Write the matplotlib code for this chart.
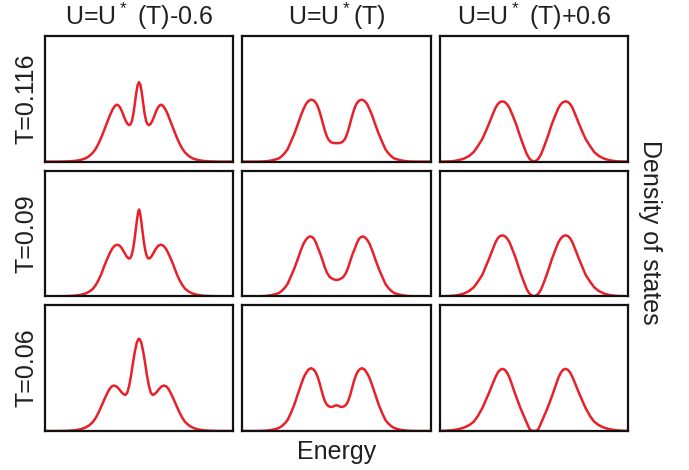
import matplotlib
matplotlib.use("Agg")
import matplotlib.pyplot as plt

plt.rcParams["font.family"] = ["Liberation Sans", "DejaVu Sans"]
plt.rcParams["mathtext.default"] = "regular"

col_titles = ["U=U$^*$ (T)-0.6", "U=U$^*$(T)", "U=U$^*$ (T)+0.6"]
row_labels = ["T=0.116", "T=0.09", "T=0.06"]

# --- U = U*(T) - 0.6 : quasiparticle peak between two Hubbard bands ---
e_116_lo = [-1.0, -0.85, -0.75, -0.68, -0.62, -0.57, -0.53, -0.49, -0.46, -0.43, -0.40, -0.37, -0.34, -0.31,
            -0.285, -0.26, -0.24, -0.22, -0.20, -0.18, -0.16, -0.14, -0.12, -0.105, -0.09, -0.075, -0.06,
            -0.045, -0.03, -0.015, 0.0,
            0.015, 0.03, 0.045, 0.06, 0.075, 0.09, 0.105, 0.12, 0.14, 0.16, 0.18, 0.20, 0.22, 0.24, 0.26,
            0.285, 0.31, 0.34, 0.37, 0.40, 0.43, 0.46, 0.49, 0.53, 0.57, 0.62, 0.68, 0.75, 0.85, 1.0]
d_116_lo = [0.0, 0.0, 0.002, 0.006, 0.014, 0.026, 0.044, 0.072, 0.103, 0.145, 0.195, 0.252, 0.31, 0.368,
            0.41, 0.44, 0.453, 0.448, 0.43, 0.397, 0.358, 0.322, 0.298, 0.291, 0.298, 0.325, 0.38,
            0.46, 0.545, 0.61, 0.632,
            0.61, 0.545, 0.46, 0.38, 0.325, 0.298, 0.291, 0.298, 0.322, 0.358, 0.397, 0.43, 0.448, 0.453, 0.44,
            0.41, 0.368, 0.31, 0.252, 0.195, 0.145, 0.103, 0.072, 0.044, 0.026, 0.014, 0.006, 0.002, 0.0, 0.0]

e_09_lo = [-1.0, -0.85, -0.75, -0.68, -0.62, -0.57, -0.53, -0.49, -0.46, -0.43, -0.40, -0.37, -0.34, -0.31,
           -0.285, -0.26, -0.235, -0.21, -0.19, -0.17, -0.15, -0.13, -0.11, -0.095, -0.08, -0.065, -0.05,
           -0.035, -0.02, -0.008, 0.0,
           0.008, 0.02, 0.035, 0.05, 0.065, 0.08, 0.095, 0.11, 0.13, 0.15, 0.17, 0.19, 0.21, 0.235, 0.26,
           0.285, 0.31, 0.34, 0.37, 0.40, 0.43, 0.46, 0.49, 0.53, 0.57, 0.62, 0.68, 0.75, 0.85, 1.0]
d_09_lo = [0.0, 0.0, 0.002, 0.005, 0.012, 0.022, 0.037, 0.06, 0.09, 0.13, 0.18, 0.24, 0.295, 0.345,
           0.38, 0.402, 0.411, 0.405, 0.39, 0.367, 0.34, 0.315, 0.301, 0.303, 0.325, 0.37, 0.44,
           0.53, 0.62, 0.675, 0.691,
           0.675, 0.62, 0.53, 0.44, 0.37, 0.325, 0.303, 0.301, 0.315, 0.34, 0.367, 0.39, 0.405, 0.411, 0.402,
           0.38, 0.345, 0.295, 0.24, 0.18, 0.13, 0.09, 0.06, 0.037, 0.022, 0.012, 0.005, 0.002, 0.0, 0.0]

e_06_lo = [-1.0, -0.85, -0.75, -0.68, -0.62, -0.57, -0.53, -0.49, -0.46, -0.43, -0.40, -0.37, -0.34, -0.315,
           -0.29, -0.265, -0.24, -0.215, -0.19, -0.165, -0.145, -0.125, -0.105, -0.085, -0.065, -0.045,
           -0.025, -0.01, 0.0,
           0.01, 0.025, 0.045, 0.065, 0.085, 0.105, 0.125, 0.145, 0.165, 0.19, 0.215, 0.24, 0.265, 0.29,
           0.315, 0.34, 0.37, 0.40, 0.43, 0.46, 0.49, 0.53, 0.57, 0.62, 0.68, 0.75, 0.85, 1.0]
d_06_lo = [0.0, 0.0, 0.002, 0.006, 0.014, 0.027, 0.045, 0.072, 0.105, 0.148, 0.198, 0.25, 0.298, 0.333,
           0.355, 0.362, 0.355, 0.336, 0.312, 0.293, 0.287, 0.305, 0.36, 0.44, 0.54, 0.63,
           0.7, 0.728, 0.734,
           0.728, 0.7, 0.63, 0.54, 0.44, 0.36, 0.305, 0.287, 0.293, 0.312, 0.336, 0.355, 0.362, 0.355,
           0.333, 0.298, 0.25, 0.198, 0.148, 0.105, 0.072, 0.045, 0.027, 0.014, 0.006, 0.002, 0.0, 0.0]

# --- U = U*(T) : two bands with a pseudogap ---
e_116_mid = [-1.0, -0.85, -0.76, -0.70, -0.65, -0.61, -0.58, -0.55, -0.52, -0.487, -0.45, -0.415, -0.38,
             -0.35, -0.325, -0.30, -0.27, -0.245, -0.225, -0.205, -0.185, -0.165, -0.145, -0.125, -0.105,
             -0.085, -0.06, -0.03, 0.0,
             0.03, 0.06, 0.085, 0.105, 0.125, 0.145, 0.165, 0.185, 0.205, 0.225, 0.245, 0.27, 0.30, 0.325,
             0.35, 0.38, 0.415, 0.45, 0.487, 0.52, 0.55, 0.58, 0.61, 0.65, 0.70, 0.76, 0.85, 1.0]
d_116_mid = [0.0, 0.0, 0.002, 0.008, 0.017, 0.027, 0.045, 0.068, 0.099, 0.155, 0.219, 0.29, 0.365,
             0.42, 0.459, 0.482, 0.493, 0.488, 0.474, 0.45, 0.41, 0.36, 0.305, 0.25, 0.205,
             0.175, 0.155, 0.148, 0.147,
             0.148, 0.155, 0.175, 0.205, 0.25, 0.305, 0.36, 0.41, 0.45, 0.474, 0.488, 0.493, 0.482, 0.459,
             0.42, 0.365, 0.29, 0.219, 0.155, 0.099, 0.068, 0.045, 0.027, 0.017, 0.008, 0.002, 0.0, 0.0]

e_09_mid = [-1.0, -0.85, -0.76, -0.70, -0.65, -0.61, -0.58, -0.55, -0.52, -0.487, -0.45, -0.415, -0.38,
            -0.35, -0.325, -0.30, -0.28, -0.26, -0.24, -0.22, -0.20, -0.175, -0.15, -0.125, -0.10, -0.07,
            -0.035, 0.0,
            0.035, 0.07, 0.10, 0.125, 0.15, 0.175, 0.20, 0.22, 0.24, 0.26, 0.28, 0.30, 0.325, 0.35, 0.38,
            0.415, 0.45, 0.487, 0.52, 0.55, 0.58, 0.61, 0.65, 0.70, 0.76, 0.85, 1.0]
d_09_mid = [0.0, 0.0, 0.002, 0.008, 0.017, 0.027, 0.045, 0.068, 0.099, 0.155, 0.219, 0.29, 0.365,
            0.42, 0.451, 0.47, 0.477, 0.472, 0.458, 0.43, 0.39, 0.344, 0.29, 0.232, 0.185, 0.152,
            0.136, 0.13,
            0.136, 0.152, 0.185, 0.232, 0.29, 0.344, 0.39, 0.43, 0.458, 0.472, 0.477, 0.47, 0.451, 0.42, 0.365,
            0.29, 0.219, 0.155, 0.099, 0.068, 0.045, 0.027, 0.017, 0.008, 0.002, 0.0, 0.0]

e_06_mid = [-1.0, -0.85, -0.76, -0.70, -0.65, -0.61, -0.58, -0.55, -0.52, -0.487, -0.45, -0.415, -0.38,
            -0.35, -0.325, -0.30, -0.27, -0.245, -0.225, -0.205, -0.185, -0.165, -0.145, -0.125, -0.105,
            -0.085, -0.065, -0.045, -0.025, 0.0,
            0.025, 0.045, 0.065, 0.085, 0.105, 0.125, 0.145, 0.165, 0.185, 0.205, 0.225, 0.245, 0.27, 0.30,
            0.325, 0.35, 0.38, 0.415, 0.45, 0.487, 0.52, 0.55, 0.58, 0.61, 0.65, 0.70, 0.76, 0.85, 1.0]
d_06_mid = [0.0, 0.0, 0.002, 0.007, 0.015, 0.025, 0.04, 0.06, 0.088, 0.14, 0.207, 0.285, 0.362,
            0.425, 0.46, 0.488, 0.5, 0.49, 0.472, 0.44, 0.395, 0.34, 0.285, 0.24, 0.212,
            0.198, 0.192, 0.192, 0.199, 0.205,
            0.199, 0.192, 0.192, 0.198, 0.212, 0.24, 0.285, 0.34, 0.395, 0.44, 0.472, 0.49, 0.5, 0.488,
            0.46, 0.425, 0.362, 0.285, 0.207, 0.14, 0.088, 0.06, 0.04, 0.025, 0.015, 0.007, 0.002, 0.0, 0.0]

# --- U = U*(T) + 0.6 : Mott gap ---
e_116_hi = [-1.0, -0.90, -0.85, -0.80, -0.745, -0.69, -0.64, -0.60, -0.55, -0.515, -0.48, -0.445, -0.41,
            -0.385, -0.36, -0.335, -0.31, -0.285, -0.26, -0.225, -0.19, -0.16, -0.13, -0.10, -0.075, -0.05,
            -0.03, -0.015, 0.0,
            0.015, 0.03, 0.05, 0.075, 0.10, 0.13, 0.16, 0.19, 0.225, 0.26, 0.285, 0.31, 0.335, 0.36, 0.385,
            0.41, 0.445, 0.48, 0.515, 0.55, 0.60, 0.64, 0.69, 0.745, 0.80, 0.85, 0.90, 1.0]
d_116_hi = [0.0, 0.002, 0.005, 0.012, 0.024, 0.045, 0.077, 0.12, 0.179, 0.237, 0.299, 0.365, 0.427,
            0.458, 0.475, 0.48, 0.474, 0.456, 0.427, 0.365, 0.299, 0.23, 0.165, 0.105, 0.058, 0.026,
            0.011, 0.005, 0.003,
            0.005, 0.011, 0.026, 0.058, 0.105, 0.165, 0.23, 0.299, 0.365, 0.427, 0.456, 0.474, 0.48, 0.475,
            0.458, 0.427, 0.365, 0.299, 0.237, 0.179, 0.12, 0.077, 0.045, 0.024, 0.012, 0.005, 0.002, 0.0]

e_09_hi = [-1.0, -0.90, -0.85, -0.80, -0.745, -0.69, -0.64, -0.60, -0.55, -0.515, -0.48, -0.445, -0.41,
           -0.385, -0.36, -0.335, -0.31, -0.285, -0.26, -0.225, -0.19, -0.16, -0.13, -0.10, -0.075, -0.05,
           -0.03, -0.015, 0.0,
           0.015, 0.03, 0.05, 0.075, 0.10, 0.13, 0.16, 0.19, 0.225, 0.26, 0.285, 0.31, 0.335, 0.36, 0.385,
           0.41, 0.445, 0.48, 0.515, 0.55, 0.60, 0.64, 0.69, 0.745, 0.80, 0.85, 0.90, 1.0]
d_09_hi = [0.0, 0.002, 0.005, 0.011, 0.022, 0.042, 0.072, 0.113, 0.17, 0.232, 0.295, 0.362, 0.428,
           0.462, 0.48, 0.485, 0.479, 0.46, 0.43, 0.365, 0.295, 0.225, 0.16, 0.1, 0.054, 0.024,
           0.01, 0.004, 0.002,
           0.004, 0.01, 0.024, 0.054, 0.1, 0.16, 0.225, 0.295, 0.365, 0.43, 0.46, 0.479, 0.485, 0.48,
           0.462, 0.428, 0.362, 0.295, 0.232, 0.17, 0.113, 0.072, 0.042, 0.022, 0.011, 0.005, 0.002, 0.0]

e_06_hi = [-1.0, -0.90, -0.85, -0.80, -0.745, -0.69, -0.64, -0.60, -0.55, -0.515, -0.48, -0.445, -0.41,
           -0.385, -0.36, -0.335, -0.31, -0.285, -0.26, -0.23, -0.196, -0.17, -0.143, -0.115, -0.09, -0.065,
           -0.045, -0.025, 0.0,
           0.025, 0.045, 0.065, 0.09, 0.115, 0.143, 0.17, 0.196, 0.23, 0.26, 0.285, 0.31, 0.335, 0.36, 0.385,
           0.41, 0.445, 0.48, 0.515, 0.55, 0.60, 0.64, 0.69, 0.745, 0.80, 0.85, 0.90, 1.0]
d_06_hi = [0.0, 0.004, 0.008, 0.015, 0.027, 0.046, 0.074, 0.115, 0.181, 0.24, 0.30, 0.365, 0.428,
           0.465, 0.487, 0.495, 0.487, 0.463, 0.425, 0.36, 0.287, 0.234, 0.181, 0.132, 0.088, 0.045,
           0.013, 0.002, 0.0,
           0.002, 0.013, 0.045, 0.088, 0.132, 0.181, 0.234, 0.287, 0.36, 0.425, 0.463, 0.487, 0.495, 0.487,
           0.465, 0.428, 0.365, 0.30, 0.24, 0.181, 0.115, 0.074, 0.046, 0.027, 0.015, 0.008, 0.004, 0.0]

curves = [
    [(e_116_lo, d_116_lo), (e_116_mid, d_116_mid), (e_116_hi, d_116_hi)],
    [(e_09_lo, d_09_lo), (e_09_mid, d_09_mid), (e_09_hi, d_09_hi)],
    [(e_06_lo, d_06_lo), (e_06_mid, d_06_mid), (e_06_hi, d_06_hi)],
]

W, H = 689, 470
fig, axes = plt.subplots(3, 3, figsize=(W / 100, H / 100), dpi=100)
fig.subplots_adjust(left=45 / W, right=628 / W, top=1 - 36 / H, bottom=1 - 431 / H,
                    wspace=0.05, hspace=0.072)

text_color = "#231f20"
for i in range(3):
    for j in range(3):
        ax = axes[i, j]
        e, d = curves[i][j]
        ax.plot(e, d, color="#e8202a", lw=1.8, solid_joinstyle="round", solid_capstyle="round")
        ax.set_xlim(-1, 1)
        ax.set_ylim(0, 1)
        ax.set_xticks([])
        ax.set_yticks([])
        for sp in ax.spines.values():
            sp.set_linewidth(1.6)
            sp.set_color("#111111")

for j, t in enumerate(col_titles):
    bb = axes[0, j].get_position()
    fig.text((bb.x0 + bb.x1) / 2, 1 - 16 / H, t, ha="center", va="center",
             fontsize=18, color=text_color)

for i, t in enumerate(row_labels):
    bb = axes[i, 0].get_position()
    fig.text(26 / W, (bb.y0 + bb.y1) / 2, t, rotation=90, ha="center", va="center",
             fontsize=18, color=text_color)

fig.text(337 / W, 1 - 452 / H, "Energy", ha="center", va="center", fontsize=18, color=text_color)
fig.text(650 / W, 1 - 232 / H, "Density of states", rotation=-90, ha="center", va="center",
         fontsize=18, color=text_color)

fig.savefig("out.png", dpi=100)
